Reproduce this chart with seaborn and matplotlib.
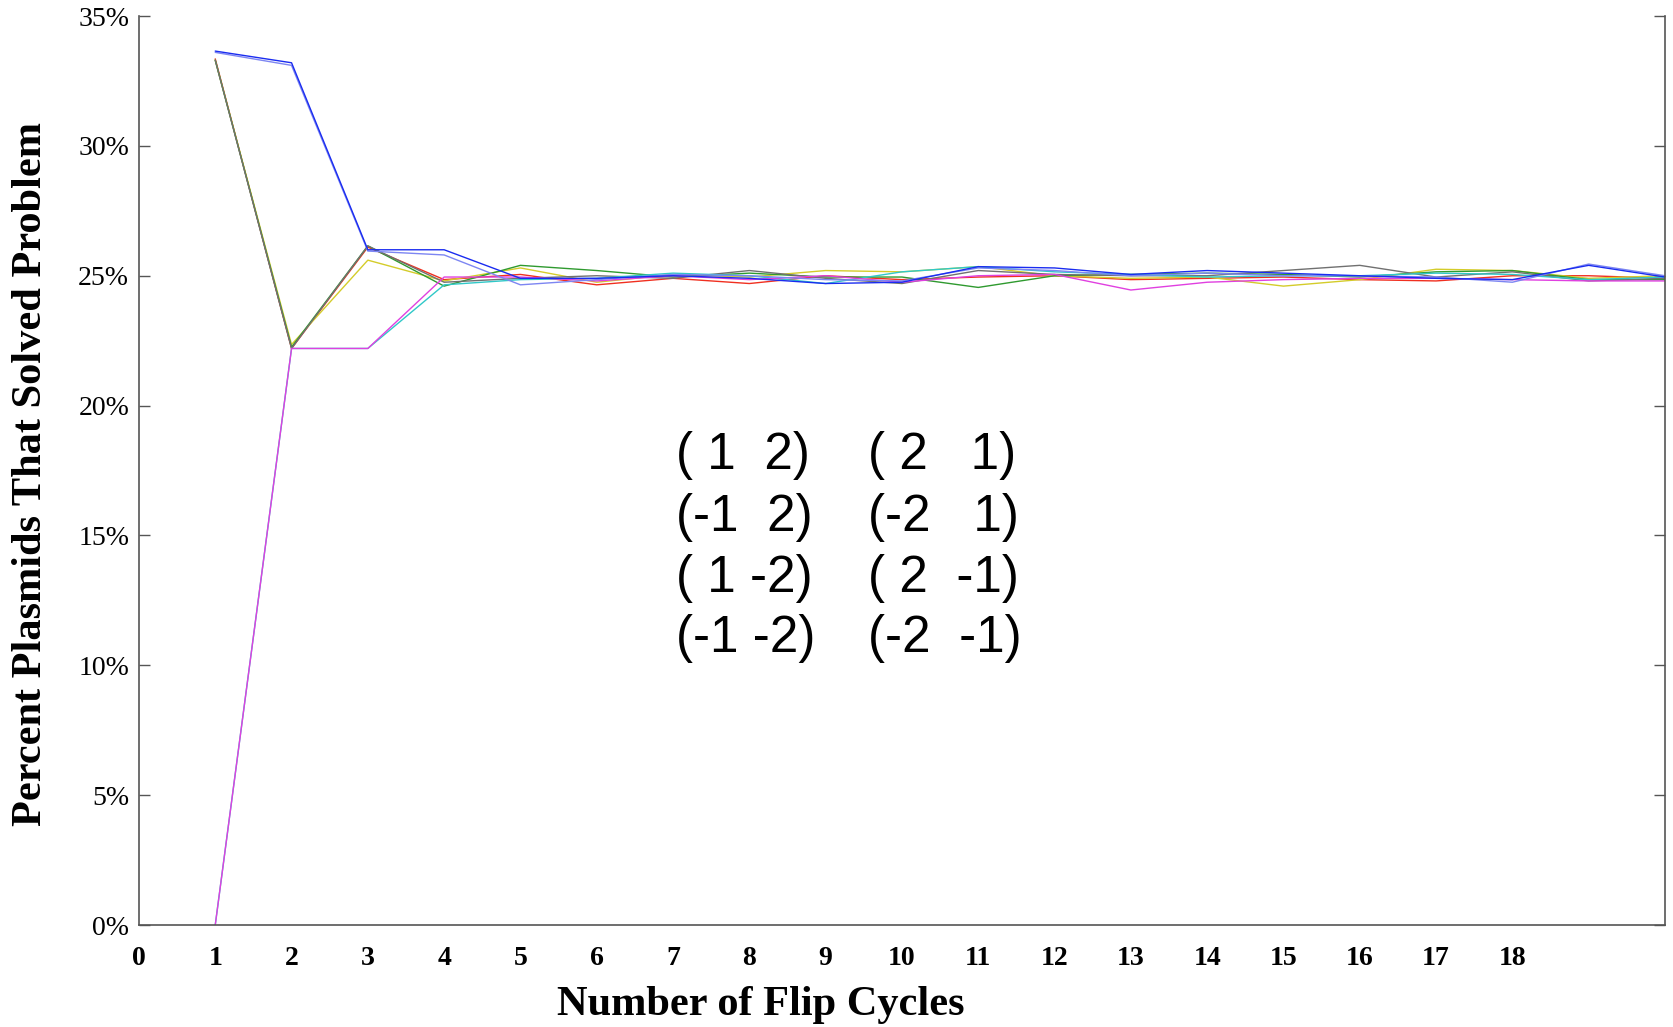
import numpy as np
import pandas as pd
import matplotlib.pyplot as plt
import seaborn as sns

# -----------------------------
# Data
# -----------------------------
cycles = list(range(1, 21))

blue_vals = [33.65, 33.2, 26.0, 26.0, 24.9, 24.9, 25.0, 24.9, 24.7, 24.75,
             25.35, 25.3, 25.05, 25.2, 25.1, 25.0, 24.9, 24.85, 25.4, 24.95]
lightblue_vals = [33.6, 33.1, 25.95, 25.8, 24.65, 24.85, 25.05, 25.0, 24.85, 24.8,
                  25.3, 25.2, 25.0, 25.1, 25.0, 25.0, 24.95, 24.75, 25.45, 25.0]
green_vals = [33.3, 22.25, 26.15, 24.6, 25.4, 25.2, 24.95, 25.1, 24.95, 24.95,
              24.55, 25.0, 25.05, 25.1, 25.05, 24.95, 25.15, 25.2, 24.85, 24.85]
gray_vals = [33.3, 22.2, 26.15, 24.75, 24.9, 25.0, 24.9, 25.2, 24.9, 24.7,
             25.2, 25.05, 25.0, 25.0, 25.2, 25.4, 24.95, 25.15, 24.8, 24.9]
yellow_vals = [33.3, 22.35, 25.6, 24.8, 25.3, 24.75, 25.05, 24.95, 25.2, 25.15,
               25.35, 25.0, 24.9, 24.95, 24.6, 24.85, 25.25, 25.2, 24.9, 25.0]
red_vals = [33.35, 22.2, 26.1, 24.85, 25.05, 24.65, 24.9, 24.7, 25.0, 24.85,
            24.95, 25.0, 24.85, 24.9, 24.95, 24.85, 24.8, 25.0, 25.0, 24.9]
magenta_vals = [0.0, 22.2, 22.2, 24.95, 24.95, 24.8, 25.0, 24.85, 25.0, 24.75,
                25.0, 25.05, 24.45, 24.75, 24.85, 24.9, 24.9, 24.85, 24.8, 24.8]
cyan_vals = [0.0, 22.2, 22.2, 24.65, 24.85, 24.9, 25.1, 25.0, 24.7, 25.15,
             25.35, 25.15, 25.05, 24.95, 25.0, 25.0, 25.1, 25.05, 24.85, 24.95]

# drawing order: first entry is drawn first (bottom)
series = {
    'red': red_vals,
    'yellow': yellow_vals,
    'green': green_vals,
    'gray': gray_vals,
    'cyan': cyan_vals,
    'magenta': magenta_vals,
    'lightblue': lightblue_vals,
    'blue': blue_vals,
}
colors = {
    'blue': '#1a2cf0',
    'lightblue': '#7d86f2',
    'green': '#2f9a2f',
    'gray': '#707070',
    'yellow': '#d4cc2a',
    'red': '#f03020',
    'cyan': '#30c8c8',
    'magenta': '#e040e0',
}

tick_labels = [str(i) for i in range(0, 19)]
y_ticks = [0, 5, 10, 15, 20, 25, 30, 35]

pairs_left = ['( 1  2)', '(-1  2)', '( 1 -2)', '(-1 -2)']
pairs_right = ['( 2   1)', '(-2   1)', '( 2  -1)', '(-2  -1)']

df = pd.DataFrame([
    {'Cycle': c, 'Percent': v, 'Series': name}
    for name, vals in series.items()
    for c, v in zip(cycles, vals)
])

# -----------------------------
# Plot
# -----------------------------
sns.set_theme(style='white')
plt.rcParams['font.family'] = ['Liberation Serif', 'DejaVu Serif']
plt.rcParams['text.color'] = 'black'
plt.rcParams['axes.labelcolor'] = 'black'
plt.rcParams['xtick.labelcolor'] = 'black'
plt.rcParams['ytick.labelcolor'] = 'black'

fig = plt.figure(figsize=(16.74, 10.27), dpi=100)
ax = fig.add_axes([0.083, 0.0993, 0.9116, 0.8851])

sns.lineplot(data=df, x='Cycle', y='Percent', hue='Series', palette=colors,
             hue_order=list(series.keys()), estimator=None, linewidth=1.0,
             legend=False, ax=ax)

ax.set_xlim(0, 20)
ax.set_ylim(0, 35)

# labels at every integer, tick marks only at even cycles
ax.set_xticks(range(0, 19))
ax.set_xticklabels(tick_labels, fontsize=20, fontweight='bold')
ax.tick_params(axis='x', which='major', length=0, pad=15)
ax.set_xticks(range(2, 20, 2), minor=True)
ax.tick_params(axis='x', which='minor', direction='in', length=9,
               width=1, color='#555555', bottom=True)

ax.set_yticks(y_ticks)
ax.set_yticklabels([f'{v}%' for v in y_ticks], fontsize=20)
ax.tick_params(axis='y', which='major', direction='in', length=8, width=1,
               color='#555555', left=True, right=True, pad=7)

for side in ['left', 'bottom', 'right']:
    ax.spines[side].set_color('#555555')
    ax.spines[side].set_linewidth(1.2)
ax.spines['top'].set_visible(False)

ax.set_xlabel('Number of Flip Cycles', fontsize=30.5, fontweight='bold')
ax.xaxis.set_label_coords(0.4076, -0.088)
ax.xaxis.label.set_va('center')
ax.set_ylabel('Percent Plasmids That Solved Problem', fontsize=30.5, fontweight='bold')
ax.yaxis.set_label_coords(-0.0705, 0.496)
ax.yaxis.label.set_va('center')

row_y = [18.06, 15.71, 13.36, 11.05]
for y, left, right in zip(row_y, pairs_left, pairs_right):
    ax.text(7.04, y, left, fontsize=37, family='Liberation Sans', va='center', ha='left')
    ax.text(9.56, y, right, fontsize=37, family='Liberation Sans', va='center', ha='left')

plt.savefig('out.png', dpi=100)
